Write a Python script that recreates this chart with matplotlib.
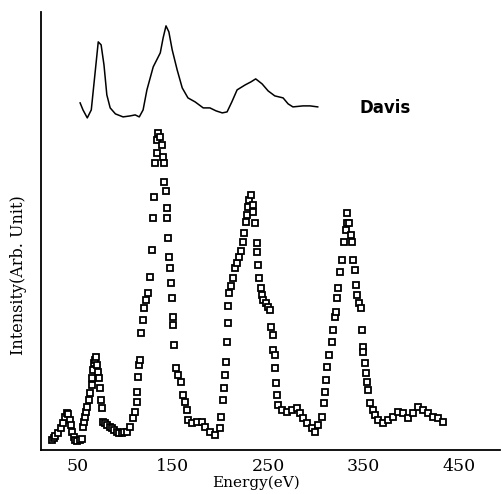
import matplotlib
matplotlib.use("Agg")
import matplotlib.pyplot as plt

# Davis reference curve (top), energy in eV, intensity in arbitrary units
davis_e = [53, 56, 60.5, 64.7, 69, 72, 75, 78, 81, 84.5, 90, 98, 105.5, 110.7, 115,
           119, 123, 129.6, 137, 140, 143, 146, 149.5, 154.7, 160, 166, 173.5, 182,
           189, 195.5, 202, 207, 212, 217.5, 226, 232, 237, 243.7, 250, 257, 265.7,
           271, 276, 286.6, 294, 302]
davis_i = [347, 340, 332, 340, 380, 408, 405, 385, 355, 342, 336, 333, 334, 335, 333,
           340, 360, 383, 397, 412, 424, 418, 400, 380, 362, 352, 348, 342,
           342, 339, 337, 338, 348, 360, 365, 368, 371, 366, 359, 354, 352,
           346, 343, 344, 344, 343]

# measured spectrum (open squares)
energy = [24, 25.5, 27, 30, 33, 35.5, 37.5, 39.5, 40.6, 42, 43.5, 45, 46.5, 48, 50, 53, 55,
          56, 57, 58, 59.5, 60.5, 62, 63.6, 65, 65.7, 67, 67.8, 69, 69.9, 71, 72, 73, 74, 75, 76, 77,
          79, 81.4, 84, 86.6, 89, 91.9, 94, 97.1, 99.5, 102.4, 105.5,
          108.6, 110.7, 112.8, 112.8, 113.9, 114.9, 116, 117, 119.1, 120.1, 122.2, 124.3, 126.4,
          128.5, 129.6, 130.6, 131.7, 133.8, 133.8, 134.8, 136.9,
          139, 140, 141.1, 141.1, 143.2, 144.2, 144.2, 145.3, 146.3, 147.4, 148.4, 149.5, 150.5,
          150.5, 151.6, 153.7, 155.7, 158.9, 161, 163, 165.2, 166.2, 170.4, 175.6, 180.9, 184,
          189.2, 194.5, 199.7,
          200.8, 202.9, 203.9, 205, 206, 207, 208.1, 208.1, 209.1, 211.2, 213.3, 215.4, 217.5,
          219.6, 221.7, 223.8, 224.8, 226.9, 228, 229, 230.1, 232.2, 234.3, 234.3, 236.4, 238.5,
          238.5, 239.5, 240.6, 242.6, 243.7, 244.7, 247.9, 250, 252.1, 253.1, 255.2, 255.2, 257.3,
          257.3, 258.4, 259.4, 260.5, 264.7, 269.9, 275.1, 280.3, 283.5, 286.6, 290.8, 296, 299.2,
          302.3, 306.5,
          308.6, 309.7, 310.7, 311.7, 313.8, 317, 318, 320.1, 321.2, 322.2, 323.3, 325.4, 327.5,
          329.5, 331.6, 332.7, 332.7, 334.8, 336.9, 337.9, 339, 341.1, 342.1, 343.2, 345.3, 347.3,
          348.4, 349.4, 349.4, 351.5, 352.6, 353.6, 354.7, 356.8, 359.9, 362, 365.1, 370.4, 375.6,
          380.9, 386.1, 391.3, 396.6, 401.8, 407, 412.3, 417.5, 422.7, 428, 433.2]
intensity = [10, 12, 14, 17, 22, 27, 33, 37, 36, 30, 25, 18, 13, 10, 9, 10, 11,
             23, 28, 33, 38, 43, 50, 57, 65, 72, 80, 87, 90, 93, 85, 78, 72, 62, 50, 42, 28,
             27, 25, 23, 22, 20, 18, 17, 17, 18, 18, 23,
             32, 38, 48, 58, 73, 85, 90, 117, 130, 142, 150, 157, 173,
             200, 232, 253, 287, 297, 310, 317, 313,
             305, 293, 287, 268, 259, 242, 232, 212, 193, 182, 167, 152, 133,
             125, 105, 82, 75, 68, 55, 48, 40, 30, 27, 28, 28, 23,
             18, 15, 22,
             33, 50, 62, 75, 88, 108, 127, 144, 157, 164, 172, 182, 187,
             193, 199, 208, 217, 228, 235, 243, 250, 255, 245, 238, 227, 207,
             198, 185, 172, 162, 155, 150, 147, 143, 140, 123, 115, 100, 95,
             82, 67, 55, 45, 40, 38, 40, 42, 37, 32, 27, 22, 18,
             25, 33,
             47, 58, 70, 83, 95, 108, 120, 133, 138, 152, 162, 178, 190,
             208, 220, 227, 237, 227, 215, 208, 190, 180, 165, 155, 147, 142,
             120, 103, 98, 87, 77, 68, 60, 47, 40, 35, 30, 27, 30,
             33, 38, 37, 32, 37, 43, 40, 37, 33, 32, 28]

xticks = [50, 150, 250, 350, 450]

fig = plt.figure(figsize=(5.03, 4.94), dpi=100)
ax = fig.add_axes([0.0815, 0.089, 0.9125, 0.887])

ax.plot(davis_e, davis_i, color='black', lw=1.1)
ax.plot(energy, intensity, 's', ms=4.2, mfc='white', mec='black', mew=1.3)

ax.text(346, 342, 'Davis', fontsize=12, fontweight='bold', family='DejaVu Sans',
        va='center', ha='left')

ax.set_xlim(12, 493)
ax.set_ylim(0, 438)
ax.set_xticks(xticks)
ax.set_xticklabels([str(t) for t in xticks], family='DejaVu Serif', fontsize=12.5)
ax.set_yticks([])
ax.tick_params(axis='x', length=0, pad=6)

ax.spines['top'].set_visible(False)
ax.spines['right'].set_visible(False)
ax.spines['left'].set_linewidth(1.3)
ax.spines['bottom'].set_linewidth(1.3)

ax.text(237, -0.074, 'Energy(eV)', transform=ax.get_xaxis_transform(),
        ha='center', va='center', family='DejaVu Serif', fontsize=11)
ax.text(-0.05, 0.40, 'Intensity(Arb. Unit)', transform=ax.transAxes, rotation=90,
        ha='center', va='center', family='DejaVu Serif', fontsize=11.5)

fig.savefig('out.png', dpi=100)
